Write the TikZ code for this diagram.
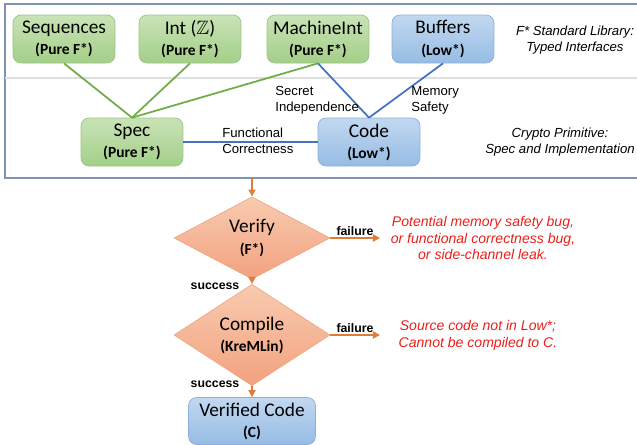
\documentclass[tikz,border=0pt]{standalone}
\usepackage{fontspec}
\usepackage{amssymb}
\setmainfont{Carlito}
\newfontfamily\arialfont{Liberation Sans}
\usetikzlibrary{shapes.geometric,arrows.meta}

\definecolor{greentop}{HTML}{C9E3B6}
\definecolor{greenbot}{HTML}{A3CF88}
\definecolor{greenedge}{HTML}{9CC484}
\definecolor{greenline}{HTML}{70AD47}
\definecolor{bluetop}{HTML}{C2D8F0}
\definecolor{bluebot}{HTML}{96BCE4}
\definecolor{blueedge}{HTML}{8EAEDA}
\definecolor{blueline}{HTML}{4472C4}
\definecolor{orangetop}{HTML}{F8CBB0}
\definecolor{orangebot}{HTML}{F2A27F}
\definecolor{orangeedge}{HTML}{EFA886}
\definecolor{orangeline}{HTML}{E07B39}
\definecolor{framecol}{HTML}{7F94B2}
\definecolor{errred}{HTML}{E8201A}

\newcommand{\boxtext}[2]{{\fontsize{11}{13}\selectfont #1}\\[0pt]{\fontsize{8.8}{11}\selectfont\bfseries #2}}

\begin{document}
\begin{tikzpicture}[x=0.02cm,y=-0.02cm,
  purebox/.style={rectangle,rounded corners=0.16cm,draw=greenedge,top color=greentop,bottom color=greenbot,
    minimum width=2.04cm,minimum height=0.96cm,align=center,inner sep=0pt},
  lowbox/.style={purebox,draw=blueedge,top color=bluetop,bottom color=bluebot},
  check/.style={diamond,draw=orangeedge,top color=orangetop,bottom color=orangebot,
    minimum width=3.12cm,minimum height=1.4cm,inner sep=0pt,align=center},
  flow/.style={draw=orangeline,line width=1pt,-{Triangle[length=4pt,width=4pt]}},
  lbl/.style={font=\arialfont\fontsize{7.5}{9}\selectfont,align=left,inner sep=0pt},
  side/.style={font=\arialfont\itshape\fontsize{7.5}{9}\selectfont,align=center,inner sep=0pt},
  err/.style={side,text=errred,font=\arialfont\itshape\fontsize{8}{9.6}\selectfont},
  verdict/.style={font=\arialfont\bfseries\fontsize{7}{8}\selectfont,inner sep=0pt}]
\useasboundingbox (0,0) rectangle (637,444);

% frame round the library and the primitive
\draw[framecol,line width=0.6pt] (645,4) -- (5,4) -- (5,178) -- (645,178);
\draw[gray!25,line width=0.6pt] (5,78) -- (645,78);

% library
\node[purebox] (seq) at (64,39) {\boxtext{Sequences}{(Pure F*)}};
\node[purebox] (int) at (190,39) {\boxtext{Int ($\mathbb{Z}$)}{(Pure F*)}};
\node[purebox] (mint) at (318,39) {\boxtext{MachineInt}{(Pure F*)}};
\node[lowbox] (buf) at (443,39) {\boxtext{Buffers}{(Low*)}};
\node[side] (libnote) at (575,40) {F* Standard Library:\\Typed Interfaces};

% primitive
\node[purebox] (spec) at (132,142) {\boxtext{Spec}{(Pure F*)}};
\node[lowbox] (code) at (369,142) {\boxtext{Code}{(Low*)}};
\node[side] (primnote) at (560,142) {Crypto Primitive:\\Spec and Implementation};

\draw[greenline,line width=1pt] (seq.south) -- (spec.north);
\draw[greenline,line width=1pt] (int.south) -- (spec.north);
\draw[greenline,line width=1pt] (mint.south) -- (spec.north);
\draw[blueline,line width=1pt] (mint.south) -- (code.north);
\draw[blueline,line width=1pt] (buf.south) -- (code.north);
\draw[blueline,line width=1pt] (spec.east) -- (code.west);

\node[lbl,anchor=north west] (secret) at (275,86) {Secret\\Independence};
\node[lbl,anchor=north west] (memsafe) at (411,86) {Memory\\Safety};
\node[lbl,anchor=north west] (funcorr) at (222,128) {Functional\\Correctness};

% toolchain
\coordinate (framebot) at (252,178);
\node[check] (verify) at (252,238) {\boxtext{Verify}{(F*)}};
\node[check] (compile) at (252,335) {\boxtext{Compile}{(KreMLin)}};
\node[lowbox,minimum width=2.54cm,minimum height=0.94cm] (verified) at (252,421) {\boxtext{Verified Code}{(C)}};

\coordinate (verifyout) at (380,238);
\coordinate (compileout) at (380,335);
\node[err] (verifyerr) at (483,238) {Potential memory safety bug,\\or functional correctness bug,\\or side-channel leak.};
\node[err] (compileerr) at (478,335) {Source code not in Low*;\\Cannot be compiled to C.};

\draw[flow] (framebot) -- (verify.north);
\draw[flow] (verify.south) -- (compile.north);
\draw[flow] (compile.south) -- (verified.north);
\draw[flow] (verify.east) -- (verifyout);
\draw[flow] (compile.east) -- (compileout);

\node[verdict] (vfail) at (355,231) {failure};
\node[verdict] (cfail) at (355,328) {failure};
\node[verdict] (vsucc) at (215,286) {success};
\node[verdict] (csucc) at (215,384) {success};
\end{tikzpicture}
\end{document}
